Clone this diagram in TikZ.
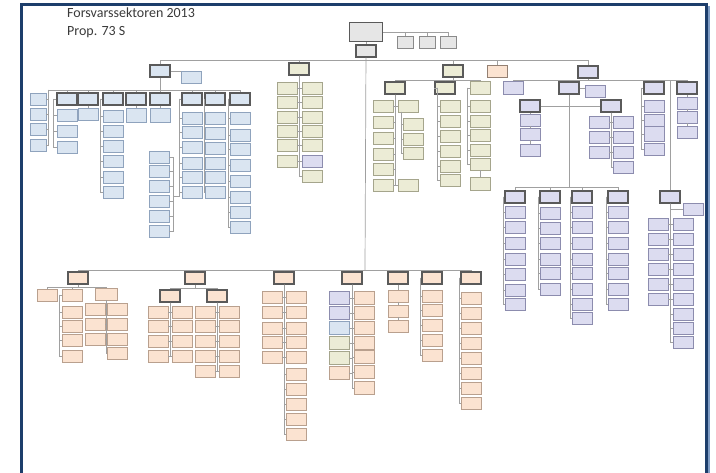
\documentclass[tikz,border=0pt]{standalone}
\usepackage{fontspec}
\setmainfont{Carlito}
\definecolor{rahmen}{HTML}{1D3E6B}
\definecolor{rahmenhell}{HTML}{7F9CC4}
\definecolor{titeltext}{HTML}{3A3A3A}
\definecolor{linie}{HTML}{A0A0A0}
\definecolor{leiterR}{HTML}{5A5A5A}
\definecolor{grauF}{HTML}{E6E6E6}
\definecolor{grauR}{HTML}{8A8A8A}
\definecolor{blauF}{HTML}{DAE5F1}
\definecolor{blauR}{HTML}{8FA3BD}
\definecolor{lilaF}{HTML}{DCDCF0}
\definecolor{lilaR}{HTML}{8C8CAE}
\definecolor{gruenF}{HTML}{ECECD6}
\definecolor{gruenR}{HTML}{A5A58C}
\definecolor{orF}{HTML}{FBE3D1}
\definecolor{orR}{HTML}{B9A08E}
\tikzset{
    kasten/.style={draw, line width=0.6pt, minimum width=20pt, minimum height=12pt, inner sep=0pt},
    kgrau/.style={kasten, draw=grauR, fill=grauF},
    kblau/.style={kasten, draw=blauR, fill=blauF},
    klila/.style={kasten, draw=lilaR, fill=lilaF},
    kgruen/.style={kasten, draw=gruenR, fill=gruenF},
    korange/.style={kasten, draw=orR, fill=orF},
    leiter/.style={draw=leiterR, line width=1.4pt},
    ln/.style={draw=linie, line width=0.7pt},
    titel/.style={anchor=west, inner sep=0pt, text=titeltext, font=\fontsize{14}{16}\selectfont}
}
\begin{document}
\begin{tikzpicture}[x=1pt, y=-1pt]
\useasboundingbox (0,0) rectangle (716,473);

% Rahmen
\draw[rahmenhell, line width=2pt] (709,6) -- (709,473);
\draw[rahmen, line width=3pt] (21.5,473) -- (21.5,4.5) -- (706,4.5) -- (706,473);

% Titel
\node[titel] (tit) at (67,13) {Forsvarssektoren 2013};
\node[titel] (prop) at (67,32) {Prop. 73 S};

% Spitze
\node[kgrau, leiter, minimum width=33pt, minimum height=19pt] (root) at (366,32) {};
\node[kgrau, leiter] (stab) at (366,51) {};
\node[kgrau, minimum width=16pt] (s1) at (405,42) {};
\node[kgrau, minimum width=16pt] (s2) at (427,42) {};
\node[kgrau, minimum width=16pt] (s3) at (448,42) {};
\draw[ln] (root) -- (stab);
\draw[ln] (root.east) -| (s3.north);
\draw[ln] (s1.north) -- (s1.north |- root.east);
\draw[ln] (s2.north) -- (s2.north |- root.east);

% Hauptlinien
\coordinate (bo) at (365,60);
\coordinate (bu) at (365,270);
\draw[ln] (stab) -- (bu);

\node[kblau, leiter] (A) at (160,71) {};
\node[kblau] (A0) at (191,77) {};
\node[kgruen, leiter] (G) at (299,69) {};
\node[kgruen, leiter] (H) at (453,71) {};
\node[korange, draw=orR!80!black, line width=1pt] (O) at (497,72) {};
\node[klila, leiter] (F) at (588,72) {};
\draw[ln] (A.north) -- (A.north |- bo) -| (F.north);
\foreach \k in {G,H,O} \draw[ln] (\k.north) -- (\k.north |- bo);
\draw[ln] (A.east) -- (A.east -| A0.west);

% Block A
\coordinate (ba) at (160,90);
\coordinate (ta1) at (48,90);
\draw[ln] (A) -- (ba);
\foreach \n/\x in {2/67,3/88,4/113,5/136,6/160,7/192,8/215,9/240} {
    \node[kblau, leiter] (a\n) at (\x,99) {};
}
\draw[ln] (ta1) -- (a9.north |- ba) -- (a9.north);
\foreach \n in {2,...,8} \draw[ln] (a\n.north) -- (a\n.north |- ba);

\foreach \y [count=\i] in {99,114,129,145} {
    \node[kblau, minimum width=16pt] (a1-\i) at (38,\y) {};
    \draw[ln] (ta1) |- (a1-\i.east);
}
\coordinate (ta2) at (53,99);
\draw[ln] (a2.west) -- (ta2);
\foreach \y [count=\i] in {115,131,147} {
    \node[kblau] (a2-\i) at (67,\y) {};
    \draw[ln] (ta2) |- (a2-\i.west);
}
\node[kblau] (a3-1) at (88,114) {};
\draw[ln] (a3) -- (a3-1);
\coordinate (ta4) at (100,99);
\draw[ln] (a4.west) -- (ta4);
\foreach \y [count=\i] in {116,131,146,161,177,192} {
    \node[kblau] (a4-\i) at (113,\y) {};
    \draw[ln] (ta4) |- (a4-\i.west);
}
\node[kblau, minimum height=14pt] (a5-1) at (136,115) {};
\node[kblau, minimum height=14pt] (a6-1) at (160,115) {};
\draw[ln] (a5) -- (a5-1);
\draw[ln] (a6) -- (a6-1);
\coordinate (ta7) at (179,99);
\draw[ln] (a7.west) -- (ta7);
\foreach \y [count=\i] in {118,132,147,163,177,192} {
    \node[kblau] (a7-\i) at (192,\y) {};
    \draw[ln] (ta7) |- (a7-\i.west);
}
\coordinate (ta8) at (204,99);
\draw[ln] (a8.west) -- (ta8);
\foreach \y [count=\i] in {118,133,148,163,177,192} {
    \node[kblau] (a8-\i) at (215,\y) {};
    \draw[ln] (ta8) |- (a8-\i.west);
}
\coordinate (ta9) at (228,99);
\draw[ln] (a9.west) -- (ta9);
\foreach \y [count=\i] in {118,135,149,165,181,197,212,227} {
    \node[kblau] (a9-\i) at (240,\y) {};
    \draw[ln] (ta9) |- (a9-\i.west);
}
% lose Spalte
\coordinate (tf) at (173,196);
\draw[ln] (ta7) |- (tf);
\foreach \y [count=\i] in {157,171,186,201,216,231} {
    \node[kblau] (fl-\i) at (159,\y) {};
    \draw[ln] (tf) |- (fl-\i.east);
}

% Block G
\foreach \y [count=\i] in {88,102,117,131,145,161} {
    \node[kgruen] (gl-\i) at (287,\y) {};
    \draw[ln] (G.south) |- (gl-\i.east);
}
\foreach \y/\f/\r [count=\i] in {88/gruenF/gruenR,102/gruenF/gruenR,117/gruenF/gruenR,131/gruenF/gruenR,145/gruenF/gruenR,161/lilaF/lilaR,176/gruenF/gruenR} {
    \node[kasten, fill=\f, draw=\r] (gr-\i) at (312,\y) {};
    \draw[ln] (G.south) |- (gr-\i.west);
}

% Block H
\coordinate (bh) at (453,80);
\node[kgruen, leiter] (h1) at (395,88) {};
\node[kgruen, leiter] (h2) at (445,88) {};
\node[kgruen, minimum height=13pt] (h3) at (480,88) {};
\draw[ln] (H) -- (bh);
\draw[ln] (h1.north) -- (h1.north |- bh) -| (h3.north);
\draw[ln] (h2.north) -- (h2.north |- bh);

\foreach \y [count=\i] in {106,122,138,154,169,185} {
    \node[kgruen] (h1l-\i) at (383,\y) {};
    \draw[ln] (h1.south) |- (h1l-\i.east);
}
\node[kgruen] (h1r) at (408,106) {};
\node[kgruen] (h1x) at (408,185) {};
\draw[ln] (h1.south) |- (h1r.west);
\draw[ln] (h1.south) |- (h1x.west);
\coordinate (th1) at (401,112);
\foreach \y [count=\i] in {124,139,153} {
    \node[kgruen] (h1s-\i) at (413,\y) {};
    \draw[ln] (th1) |- (h1s-\i.west);
}
\coordinate (th2) at (437,88);
\draw[ln] (h2.west) -- (th2);
\foreach \y [count=\i] in {106,121,136,151,166,180} {
    \node[kgruen] (h2-\i) at (450,\y) {};
    \draw[ln] (th2) |- (h2-\i.west);
}
\coordinate (th3) at (467,88);
\draw[ln] (h3.west) -- (th3);
\foreach \y [count=\i] in {106,121,135,150,164} {
    \node[kgruen] (h3-\i) at (480,\y) {};
    \draw[ln] (th3) |- (h3-\i.west);
}
\node[kgruen, minimum height=13pt] (h3-6) at (480,184) {};
\draw[ln] (h3-5) -- (h3-6);

% Block F
\coordinate (bf) at (588,80);
\node[klila, minimum height=13pt] (f1) at (513,88) {};
\node[klila, leiter] (f2) at (569,88) {};
\node[klila] (f2s) at (595,91) {};
\node[klila, leiter] (f3) at (654,88) {};
\node[klila, leiter] (f4) at (687,88) {};
\node[klila, leiter] (f6) at (670,197) {};
\draw[ln] (F) -- (bf);
\draw[ln] (f1.north) -- (f1.north |- bf) -| (f4.north);
\foreach \k in {f2,f3,f6} \draw[ln] (\k.north) -- (\k.north |- bf);
\draw[ln] (f2.east) -- (f2.east -| f2s.west);

\node[klila, leiter] (f2a) at (530,106) {};
\node[klila, leiter] (f2b) at (611,106) {};
\draw[ln] (f2a.east) -- (f2b.west);
\foreach \y [count=\i] in {120,134,150} \node[klila] (f2a-\i) at (530,\y) {};
\foreach \a/\b in {f2a/f2a-1,f2a-1/f2a-2,f2a-2/f2a-3} \draw[ln] (\a) -- (\b);
\foreach \y [count=\i] in {122,137,152} {
    \node[klila] (f2l-\i) at (599,\y) {};
    \draw[ln] (f2b.south) |- (f2l-\i.east);
}
\foreach \y [count=\i] in {122,137,152,167} {
    \node[klila] (f2r-\i) at (623,\y) {};
    \draw[ln] (f2b.south) |- (f2r-\i.west);
}
\coordinate (tf3) at (641,88);
\draw[ln] (f3.west) -- (tf3);
\foreach \y/\h [count=\i] in {106/12,120/12,134/15,149/12} {
    \node[klila, minimum height=\h pt] (f3-\i) at (654,\y) {};
    \draw[ln] (tf3) |- (f3-\i.west);
}
\foreach \y [count=\i] in {103,117,132} \node[klila] (f4-\i) at (687,\y) {};
\foreach \a/\b in {f4/f4-1,f4-1/f4-2,f4-2/f4-3} \draw[ln] (\a) -- (\b);

% untere Ebene F
\coordinate (bf5) at (569,187);
\draw[ln] (f2.south) -- (bf5);
\foreach \n/\x in {1/515,2/550,3/582,4/618} {
    \node[klila, leiter] (e\n) at (\x,197) {};
}
\draw[ln] (e1.north) -- (e1.north |- bf5) -| (e4.north);
\foreach \n in {2,3} \draw[ln] (e\n.north) -- (e\n.north |- bf5);
\coordinate (te1) at (503,197);
\draw[ln] (e1.west) -- (te1);
\foreach \y [count=\i] in {212,227,243,259,274,290,304} {
    \node[klila] (e1-\i) at (515,\y) {};
    \draw[ln] (te1) |- (e1-\i.west);
}
\coordinate (te2) at (538,197);
\draw[ln] (e2.west) -- (te2);
\foreach \y [count=\i] in {213,228,243,259,273,289} {
    \node[klila] (e2-\i) at (550,\y) {};
    \draw[ln] (te2) |- (e2-\i.west);
}
\coordinate (te3) at (570,197);
\draw[ln] (e3.west) -- (te3);
\foreach \y [count=\i] in {212,227,243,259,273,289,304,318} {
    \node[klila] (e3-\i) at (582,\y) {};
    \draw[ln] (te3) |- (e3-\i.west);
}
\coordinate (te4) at (606,197);
\draw[ln] (e4.west) -- (te4);
\foreach \y [count=\i] in {212,227,243,259,273,289,304} {
    \node[klila] (e4-\i) at (618,\y) {};
    \draw[ln] (te4) |- (e4-\i.west);
}
\node[klila] (f6s) at (693,209) {};
\draw[ln] (f6.south) |- (f6s.west);
\foreach \y [count=\i] in {224,239,254,269,284,299} {
    \node[klila] (f6l-\i) at (658,\y) {};
    \draw[ln] (f6.south) |- (f6l-\i.east);
}
\foreach \y [count=\i] in {224,239,254,269,284,299,314,328,342} {
    \node[klila] (f6r-\i) at (683,\y) {};
    \draw[ln] (f6.south) |- (f6r-\i.west);
}

% untere Haelfte
\foreach \n/\x in {1/78,2/195,3/284,4/352,5/398,6/432,7/471} {
    \node[korange, leiter] (L\n) at (\x,278) {};
}
\draw[ln] (L1.north) -- (L1.north |- bu) -| (L7.north);
\foreach \n in {2,...,6} \draw[ln] (L\n.north) -- (L\n.north |- bu);

% L1
\coordinate (bl1) at (78,287);
\draw[ln] (L1) -- (bl1);
\node[korange] (l1a) at (47,295) {};
\node[korange] (l1b) at (72,295) {};
\node[korange, minimum width=22pt] (l1c) at (106,294) {};
\draw[ln] (l1a.north) -- (l1a.north |- bl1) -| (l1c.north);
\draw[ln] (l1b.north) -- (l1b.north |- bl1);
\coordinate (tl1) at (59,295);
\draw[ln] (l1b.west) -- (tl1);
\foreach \y [count=\i] in {312,326,340,356} {
    \node[korange] (l1b-\i) at (72,\y) {};
    \draw[ln] (tl1) |- (l1b-\i.west);
}
\foreach \y [count=\i] in {309,324,339} {
    \node[korange] (l1l-\i) at (95,\y) {};
    \draw[ln] (l1c.south) |- (l1l-\i.east);
}
\foreach \y [count=\i] in {309,324,339,353} {
    \node[korange] (l1r-\i) at (117,\y) {};
    \draw[ln] (l1c.south) |- (l1r-\i.west);
}

% L2
\coordinate (bl2) at (195,288);
\draw[ln] (L2) -- (bl2);
\node[korange, leiter] (l2a) at (170,296) {};
\node[korange, leiter] (l2b) at (217,296) {};
\draw[ln] (l2a.north) -- (l2a.north |- bl2) -| (l2b.north);
\foreach \y [count=\i] in {312,326,341,356} {
    \node[korange] (l2al-\i) at (158,\y) {};
    \node[korange] (l2ar-\i) at (182,\y) {};
    \draw[ln] (l2a.south) |- (l2al-\i.east);
    \draw[ln] (l2a.south) |- (l2ar-\i.west);
}
\foreach \y [count=\i] in {312,326,341,356,371} {
    \node[korange] (l2bl-\i) at (205,\y) {};
    \node[korange] (l2br-\i) at (229,\y) {};
    \draw[ln] (l2b.south) |- (l2bl-\i.east);
    \draw[ln] (l2b.south) |- (l2br-\i.west);
}

% L3
\foreach \y [count=\i] in {297,312,328,342,357} {
    \node[korange] (l3l-\i) at (272,\y) {};
    \draw[ln] (L3.south) |- (l3l-\i.east);
}
\foreach \y [count=\i] in {297,312,328,342,357,374,389,404,419,434} {
    \node[korange] (l3r-\i) at (296,\y) {};
    \draw[ln] (L3.south) |- (l3r-\i.west);
}

% L4
\foreach \y/\f/\r [count=\i] in {298/lilaF/lilaR,313/lilaF/lilaR,328/blauF/blauR,343/gruenF/gruenR,358/gruenF/gruenR,373/orF/orR} {
    \node[kasten, fill=\f, draw=\r, minimum height=13pt] (l4l-\i) at (339,\y) {};
    \draw[ln] (L4.south) |- (l4l-\i.east);
}
\foreach \y [count=\i] in {298,313,328,343,357,372,388} {
    \node[korange, minimum height=13pt] (l4r-\i) at (364,\y) {};
    \draw[ln] (L4.south) |- (l4r-\i.west);
}

% L5
\foreach \y [count=\i] in {296,311,326} \node[korange] (l5-\i) at (398,\y) {};
\foreach \a/\b in {L5/l5-1,l5-1/l5-2,l5-2/l5-3} \draw[ln] (\a) -- (\b);

% L6
\coordinate (tl6) at (420,278);
\draw[ln] (L6.west) -- (tl6);
\foreach \y [count=\i] in {296,310,325,340,355} {
    \node[korange] (l6-\i) at (432,\y) {};
    \draw[ln] (tl6) |- (l6-\i.west);
}

% L7
\coordinate (tl7) at (459,278);
\draw[ln] (L7.west) -- (tl7);
\foreach \y [count=\i] in {298,313,328,343,358,373,388,403} {
    \node[korange] (l7-\i) at (471,\y) {};
    \draw[ln] (tl7) |- (l7-\i.west);
}
\end{tikzpicture}
\end{document}
